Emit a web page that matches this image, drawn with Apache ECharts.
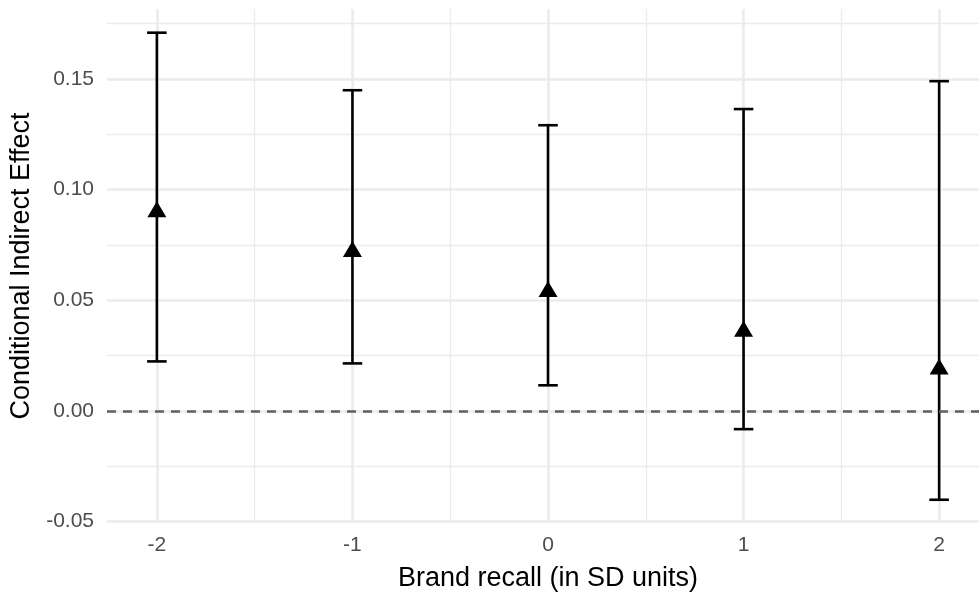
<!DOCTYPE html>
<html>
<head>
<meta charset="utf-8">
<script src="https://cdn.jsdelivr.net/npm/echarts@6/dist/echarts.min.js"></script>
<style>
html,body{margin:0;padding:0;background:#fff;}
#chart{width:979px;height:594px;}
</style>
</head>
<body>
<div id="chart"></div>
<script>
// Data
var recall = [-2, -1, 0, 1, 2];
var effect = [0.090, 0.072, 0.054, 0.036, 0.019];
var lower = [0.0224, 0.0215, 0.0116, -0.0082, -0.0401];
var upper = [0.1709, 0.1449, 0.1291, 0.1364, 0.1490];
var xTicks = [-2, -1, 0, 1, 2];
var xMinor = [-1.5, -0.5, 0.5, 1.5];
var yTicks = [-0.05, 0, 0.05, 0.10, 0.15];
var yMinor = [-0.025, 0.025, 0.075, 0.125, 0.175];
var refLine = 0;

var xMin = -2.255, xMax = 2.255, yMin = -0.0506, yMax = 0.1816;
var capWidth = 0.1;

var font = '"Liberation Sans", Arial, sans-serif';

var points = recall.map(function (x, i) { return [x, effect[i]]; });
var bars = recall.map(function (x, i) { return [x, lower[i], upper[i]]; });

function baseX(custom, major) {
  return {
    type: 'value', min: xMin, max: xMax, position: 'bottom', offset: 0,
    axisLine: {show: false},
    axisTick: {show: false, customValues: custom},
    axisLabel: major ? {
      show: true, customValues: custom, color: '#4d4d4d', fontSize: 21, fontFamily: font, margin: 12,
      formatter: function (v) { return String(v); }
    } : {show: false},
    splitLine: {show: true, lineStyle: {color: '#ebebeb', width: major ? 2.6 : 1.3}},
    name: major ? 'Brand recall (in SD units)' : '',
    nameLocation: 'middle', nameGap: 42,
    nameTextStyle: {color: '#000', fontSize: 27, fontFamily: font}
  };
}
function baseY(custom, major) {
  return {
    type: 'value', min: yMin, max: yMax, position: 'left', offset: 0,
    axisLine: {show: false},
    axisTick: {show: false, customValues: custom},
    axisLabel: major ? {
      show: true, customValues: custom, color: '#4d4d4d', fontSize: 21, fontFamily: font, margin: 13,
      formatter: function (v) { return v.toFixed(2); }
    } : {show: false},
    splitLine: {show: true, lineStyle: {color: '#ebebeb', width: major ? 2.6 : 1.3}},
    name: major ? 'Conditional Indirect Effect' : '',
    nameLocation: 'middle', nameGap: 68, nameRotate: 90,
    nameTextStyle: {color: '#000', fontSize: 27, fontFamily: font}
  };
}

var chart = echarts.init(document.getElementById('chart'), null, {renderer: 'canvas'});
chart.setOption({
  animation: false,
  backgroundColor: '#fff',
  grid: {left: 107, top: 9, width: 882, height: 514, containLabel: false, outerBoundsMode: 'none'},
  xAxis: [baseX(xMinor, false), baseX(xTicks, true)],
  yAxis: [baseY(yMinor, false), baseY(yTicks, true)],
  series: [
    {
      type: 'line', xAxisIndex: 1, yAxisIndex: 1, data: [], silent: true,
      markLine: {
        silent: true, symbol: 'none', label: {show: false},
        lineStyle: {color: '#5f5f5f', width: 2.6, type: [9, 7]},
        data: [{yAxis: refLine}]
      }
    },
    {
      type: 'custom', xAxisIndex: 1, yAxisIndex: 1, data: bars,
      renderItem: function (params, api) {
        var x = api.value(0);
        var lo = api.coord([x, api.value(1)]);
        var hi = api.coord([x, api.value(2)]);
        var hw = api.size([capWidth, 0])[0] / 2;
        var st = {stroke: '#000', lineWidth: 2.6};
        return {
          type: 'group',
          children: [
            {type: 'line', shape: {x1: lo[0], y1: lo[1], x2: hi[0], y2: hi[1]}, style: st},
            {type: 'line', shape: {x1: lo[0] - hw, y1: lo[1], x2: lo[0] + hw, y2: lo[1]}, style: st},
            {type: 'line', shape: {x1: hi[0] - hw, y1: hi[1], x2: hi[0] + hw, y2: hi[1]}, style: st}
          ]
        };
      },
      z: 3
    },
    {
      type: 'scatter', xAxisIndex: 1, yAxisIndex: 1, data: points,
      symbol: 'triangle', symbolSize: [19, 16], symbolOffset: [0, -2.5],
      itemStyle: {color: '#000', opacity: 1},
      z: 4
    }
  ]
});
</script>
</body>
</html>
